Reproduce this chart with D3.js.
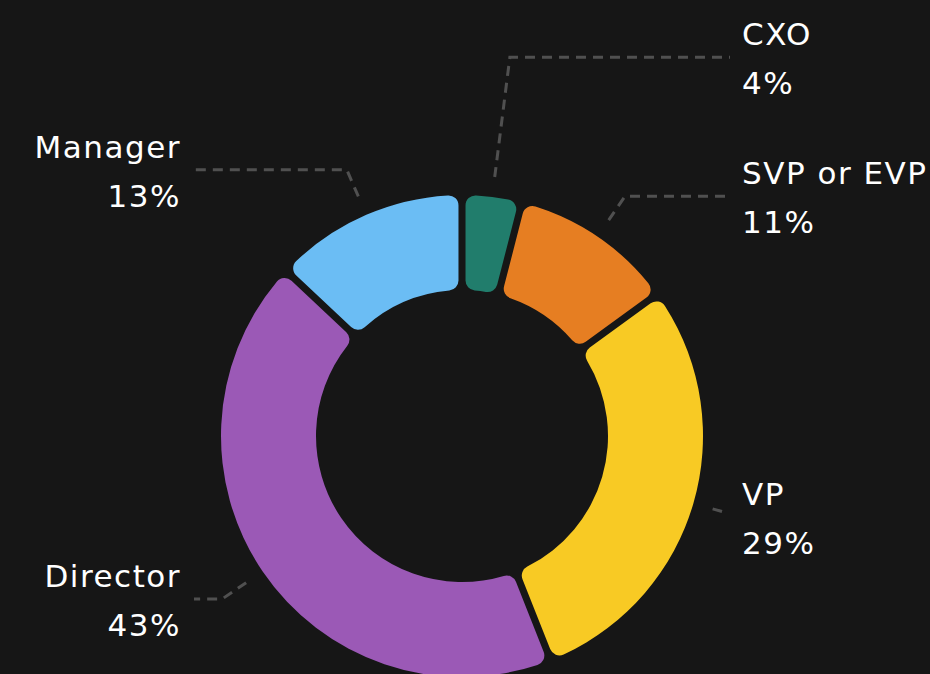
<!DOCTYPE html>
<html lang="en">
<head>
  <meta charset="UTF-8">
  <title>Seniority</title>
  <script src="https://cdnjs.cloudflare.com/ajax/libs/d3/7.8.5/d3.min.js"></script>
  <style>
    html, body { margin: 0; padding: 0; background: #161616; }
    svg { display: block; }
    text { font-family: "DejaVu Sans", sans-serif; fill: #ffffff; letter-spacing: 1.5px; }
  </style>
</head>
<body>
  <div id="chart"></div>
  <script>
    // data, clockwise from 12 o'clock
    const categories = ['CXO', 'SVP or EVP', 'VP', 'Director', 'Manager'];
    const shares = [4, 11, 29, 43, 13];
    const colors = ['#217d6c', '#e67e22', '#f8ca24', '#9b59b6', '#6bbdf4'];

    const width = 930, height = 674;
    const cx = 462, cy = 436;
    const outerR = 241, innerR = 146;

    let svg = d3.select('#chart')
      .append('svg')
      .attr('width', width)
      .attr('height', height);

    svg.append('rect').attr('width', width).attr('height', height).attr('fill', '#161616');

    const rows = categories.map((c, i) => ({ name: c, value: shares[i], color: colors[i] }));

    const pie = d3.pie().sort(null).value(d => d.value);
    const arcs = pie(rows);

    const arc = d3.arc()
      .innerRadius(innerR)
      .outerRadius(outerR)
      .padAngle(0.025)
      .cornerRadius(10);

    const g = svg.append('g').attr('transform', `translate(${cx},${cy})`);

    g.selectAll('path.slice')
      .data(arcs)
      .join('path')
      .attr('class', 'slice')
      .attr('d', arc)
      .attr('fill', d => d.data.color);

    // label layout
    const polar = (r, a) => [r * Math.sin(a), -r * Math.cos(a)];
    const lineStartR = 261, labelR = 290, spacing = 139;
    const rightEnd = 730 - cx, leftEnd = 194 - cx;

    let labels = arcs.map(d => {
      const a = (d.startAngle + d.endAngle) / 2;
      const right = Math.sin(a) >= 0;
      return { d, a, right, y: polar(labelR, a)[1] };
    });

    // push labels apart, upward
    [true, false].forEach(side => {
      const s = labels.filter(l => l.right === side).sort((p, q) => p.y - q.y);
      for (let i = s.length - 2; i >= 0; i--) {
        if (s[i].y > s[i + 1].y - spacing) s[i].y = s[i + 1].y - spacing;
      }
    });

    labels.forEach(l => {
      const start = polar(lineStartR, l.a);
      let rb = -l.y / Math.cos(l.a);
      let bend = polar(rb, l.a);
      const endX = l.right ? rightEnd : leftEnd;
      let pts;
      if ((l.right && bend[0] > endX - 8) || (!l.right && bend[0] < endX + 8)) {
        const tx = l.right ? endX - 8 : endX + 8;
        const rr = tx / Math.sin(l.a);
        pts = [start, polar(rr, l.a)];
      } else {
        pts = [start, bend, [endX, l.y]];
      }
      g.append('path')
        .attr('d', d3.line()(pts))
        .attr('fill', 'none')
        .attr('stroke', '#505050')
        .attr('stroke-width', 3)
        .attr('stroke-dasharray', '10,7');

      const tx = l.right ? 742 - cx : 181 - cx;
      const anchor = l.right ? 'start' : 'end';
      g.append('text')
        .attr('x', tx).attr('y', l.y - 12)
        .attr('text-anchor', anchor)
        .attr('font-size', 31)
        .text(l.d.data.name);
      g.append('text')
        .attr('x', tx).attr('y', l.y + 37)
        .attr('text-anchor', anchor)
        .attr('font-size', 31)
        .text(l.d.data.value + '%');
    });
  </script>
</body>
</html>
